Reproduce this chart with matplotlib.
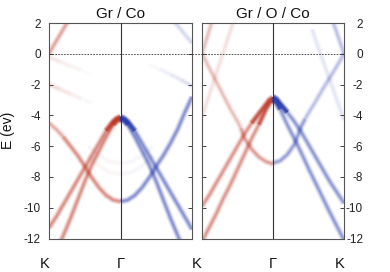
import matplotlib
matplotlib.use("Agg")
import matplotlib.pyplot as plt
import matplotlib.transforms as mtransforms

plt.rcParams['font.family'] = ['Liberation Sans', 'DejaVu Sans']

# =========================
# band data (k: 0 = K, 1 = Gamma; blue side mirrored to 2 - k)
# =========================

k_half = [0.0, 0.1, 0.2, 0.3, 0.4, 0.5, 0.6, 0.7, 0.8, 0.9, 0.95, 1.0]
k_pi = [0.0, 0.1, 0.2, 0.3, 0.4, 0.5, 0.55, 0.6, 0.7, 0.8, 0.9, 1.0]
k_star = [0.0, 0.05, 0.1, 0.15, 0.2, 0.25, 0.3]

# Gr / Co
co_s1_up = [-11.3, -10.6, -9.8, -9.0, -8.2, -7.4, -6.6, -5.8, -5.0, -4.4, -4.2, -4.1]
co_s2_up = [-13.9, -12.9, -11.8, -10.7, -9.5, -8.3, -7.2, -6.3, -5.4, -4.6, -4.35, -4.25]
co_pi_up = [-4.5, -4.9, -5.4, -6.0, -6.6, -7.3, -7.7, -8.05, -8.7, -9.2, -9.5, -9.6]
co_s1_dn = [-11.4, -10.6, -9.8, -9.0, -8.2, -7.4, -6.6, -5.8, -5.0, -4.4, -4.2, -4.1]
co_s2_dn = [-13.9, -12.9, -11.8, -10.7, -9.5, -8.3, -7.2, -6.3, -5.4, -4.6, -4.35, -4.25]
co_pi_dn = [-2.8, -3.8, -4.9, -5.8, -6.6, -7.3, -7.7, -8.05, -8.7, -9.2, -9.5, -9.6]
co_star_up = [0.0, 0.42, 0.82, 1.2, 1.6, 2.0, 2.4]
co_star_dn = [0.7, 0.98, 1.26, 1.54, 1.82, 2.1, 2.4]

k_flat = [0.0, 0.15, 0.3, 0.45, 0.6]
co_flat1_up = [-0.2, -0.5, -0.8, -1.05, -1.3]
co_flat2_up = [-2.0, -2.3, -2.6, -2.9, -3.2]
co_flat_dn = [-2.1, -1.7, -1.35, -1.0, -0.7]

k_arc = [0.55, 0.7, 0.85, 1.0]
co_arc1 = [-6.0, -6.6, -7.0, -7.1]
co_arc2 = [-6.6, -7.3, -7.7, -7.8]

# Gr / O / Co
o_sA_up = [-9.9, -9.2, -8.4, -7.6, -6.8, -6.0, -5.2, -4.5, -3.9, -3.3, -3.0, -2.85]
o_sB_up = [-12.2, -11.3, -10.4, -9.4, -8.5, -7.5, -6.5, -5.5, -4.6, -3.6, -3.2, -3.0]
o_pi_up = [0.0, -0.9, -1.8, -2.7, -3.6, -4.4, -4.85, -5.5, -6.2, -6.7, -7.0, -7.15]
o_sA_dn = [-9.7, -9.0, -8.3, -7.5, -6.7, -5.9, -5.1, -4.4, -3.8, -3.25, -2.95, -2.8]
o_sB_dn = [-12.1, -11.2, -10.3, -9.35, -8.4, -7.45, -6.45, -5.5, -4.6, -3.6, -3.2, -3.0]
o_pi_dn = [0.0, -0.8, -1.55, -2.3, -3.1, -3.85, -4.25, -4.7, -5.9, -6.55, -6.95, -7.1]
o_star_up = [0.0, 0.75, 1.5, 2.25, 3.0, 3.75, 4.5]
o_star_dn = [0.0, 0.68, 1.35, 2.0, 2.7, 3.4, 4.1]

k_x = [0.0, 0.1, 0.2, 0.3, 0.4, 0.45]
o_x_up = [-4.1, -2.7, -1.3, 0.1, 1.5, 2.2]
o_x_dn = [-4.3, -3.0, -1.7, -0.4, 0.9, 1.6]

yticks = [2, 0, -2, -4, -6, -8, -10, -12]
ytick_labels = ["2", "0", "-2", "-4", "-6", "-8", "-10", "-12"]

RED = '#bd3322'
BLUE = '#2438aa'


def band(ax, k, e, color, s=1.0):
    # soft, blurred look: stacked translucent strokes
    for lw, a in [(5.2, 0.06), (4.0, 0.10), (2.8, 0.15), (1.5, 0.22)]:
        ax.plot(k, e, color=color, lw=lw, alpha=min(1.0, a * s),
                solid_capstyle='butt', solid_joinstyle='round', zorder=2)


def band_fade(ax, k, e, color, s0, s1):
    # strength changes from s0 to s1 along the band
    n = len(k) - 1
    for i in range(n):
        s = s0 + (s1 - s0) * i / max(n - 1, 1)
        band(ax, k[i:i + 2], e[i:i + 2], color, s)


def mirror(k):
    return [2 - v for v in k]


fig = plt.figure(figsize=(3.9, 2.72), dpi=100)

ax1 = fig.add_axes([49 / 390, 1 - 238.5 / 272, 143 / 390, 215.5 / 272])
ax2 = fig.add_axes([202 / 390, 1 - 238.5 / 272, 142 / 390, 215.5 / 272])

# -------------------------
# Gr / Co
# -------------------------
band(ax1, k_half, co_s1_up, RED, 1.2)
band(ax1, k_half, co_s2_up, RED, 1.2)
band(ax1, k_pi[:3], co_pi_up[:3], RED, 0.8)
band(ax1, k_pi[2:], co_pi_up[2:], RED, 1.2)
band(ax1, k_half[8:], co_s1_up[8:], RED, 2.2)
band(ax1, k_half[9:], co_s2_up[9:], RED, 2.0)
band(ax1, k_star, co_star_up, RED, 0.9)
band_fade(ax1, k_flat, co_flat1_up, RED, 0.2, 0.03)
band_fade(ax1, k_flat, co_flat2_up, RED, 0.3, 0.05)
band(ax1, k_arc, co_arc1, RED, 0.07)
band(ax1, k_arc, co_arc2, RED, 0.07)

band(ax1, mirror(k_half), co_s1_dn, BLUE, 1.2)
band(ax1, mirror(k_half), co_s2_dn, BLUE, 1.2)
band(ax1, mirror(k_pi), co_pi_dn, BLUE, 1.2)
band(ax1, mirror(k_half[8:]), co_s1_dn[8:], BLUE, 2.2)
band(ax1, mirror(k_half[9:]), co_s2_dn[9:], BLUE, 2.0)
band(ax1, mirror(k_star), co_star_dn, BLUE, 0.35)
band_fade(ax1, mirror(k_flat), co_flat_dn, BLUE, 0.28, 0.04)
band(ax1, mirror(k_arc), co_arc1, BLUE, 0.07)
band(ax1, mirror(k_arc), co_arc2, BLUE, 0.07)

# -------------------------
# Gr / O / Co
# -------------------------
band(ax2, k_half, o_sA_up, RED, 1.1)
band(ax2, k_half, o_sB_up, RED, 1.1)
band(ax2, k_pi[:7], o_pi_up[:7], RED, 0.6)
band(ax2, k_pi[6:], o_pi_up[6:], RED, 1.0)
band(ax2, k_half[7:], o_sA_up[7:], RED, 1.6)
band(ax2, k_half[8:], o_sB_up[8:], RED, 1.4)
band(ax2, k_star, o_star_up, RED, 0.6)
band(ax2, k_x, o_x_up, RED, 0.25)

band(ax2, mirror(k_half), o_sA_dn, BLUE, 1.1)
band(ax2, mirror(k_half), o_sB_dn, BLUE, 1.1)
band(ax2, mirror(k_pi[:7]), o_pi_dn[:7], BLUE, 0.6)
band(ax2, mirror(k_pi[6:]), o_pi_dn[6:], BLUE, 1.0)
band(ax2, mirror(k_half[8:]), o_sA_dn[8:], BLUE, 2.6)
band(ax2, mirror(k_half[9:]), o_sB_dn[9:], BLUE, 2.0)
band(ax2, mirror(k_star), o_star_dn, BLUE, 0.6)
band(ax2, mirror(k_x), o_x_dn, BLUE, 0.22)

# -------------------------
# axes
# -------------------------
for ax, title in [(ax1, "Gr / Co"), (ax2, "Gr / O / Co")]:
    ax.set_xlim(0, 2)
    ax.set_ylim(-12, 2)
    ax.axvline(1, color='#333333', lw=0.8, zorder=4)
    ax.set_xticks([])
    ax.set_yticks(yticks)
    ax.set_yticklabels(ytick_labels)
    ax.tick_params(axis='y', direction='in', length=3, width=0.6,
                   left=True, right=True, labelsize=8.5, colors='#222222')
    for sp in ax.spines.values():
        sp.set_color('#555555')
        sp.set_linewidth(0.8)
    ax.set_title(title, fontsize=11, pad=3.5, color='#111111')

ax1.plot([0, 2.14], [0, 0], ls=(0, (2, 1.5)), color='#333333', lw=0.6,
         clip_on=False, zorder=5)
ax2.plot([0, 2], [0, 0], ls=(0, (2, 1.5)), color='#333333', lw=0.6,
         zorder=5)

ax1.tick_params(axis='y', pad=6)
ax2.tick_params(axis='y', labelleft=False, labelright=True, pad=13.7)
for t in ax2.yaxis.get_major_ticks():
    t.label2.set_horizontalalignment('right')

tr1 = mtransforms.blended_transform_factory(ax1.transData, ax1.transAxes)
tr2 = mtransforms.blended_transform_factory(ax2.transData, ax2.transAxes)
for x, lab in [(-0.056, "K"), (1.0, "Γ"), (2.07, "K")]:
    ax1.text(x, -0.086, lab, transform=tr1, ha='center', va='top',
             fontsize=10.5, color='#111111')
for x, lab in [(1.0, "Γ"), (1.94, "K")]:
    ax2.text(x, -0.086, lab, transform=tr2, ha='center', va='top',
             fontsize=10.5, color='#111111')

fig.text(8 / 390, 1 - 130 / 272, "E (ev)", rotation=90, ha='center',
         va='center', fontsize=10, color='#111111')

fig.savefig("out.png", dpi=100)
